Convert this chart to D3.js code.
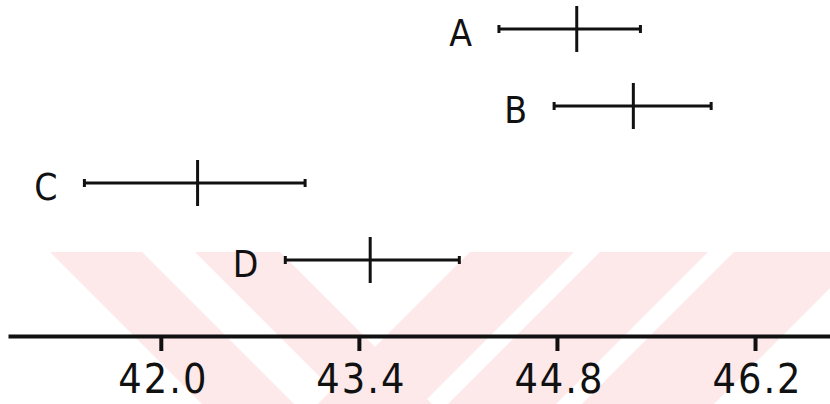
<!DOCTYPE html>
<html>
<head>
<meta charset="utf-8">
<script src="https://cdn.jsdelivr.net/npm/d3@7"></script>
<style>
  html, body { margin: 0; padding: 0; background: #fff; }
  svg { display: block; }
  text { font-family: "DejaVu Sans Condensed", "DejaVu Sans", sans-serif; fill: #111; }
</style>
</head>
<body>
<svg id="chart"></svg>
<script>
// Chart data
const categories = ["A", "B", "C", "D"];
const means = [44.94, 45.34, 42.26, 43.48];
const lows = [44.39, 44.78, 41.46, 42.88];
const highs = [45.39, 45.89, 43.02, 44.11];
const tickValues = [42.0, 43.4, 44.8, 46.2];

const width = 830;
const height = 404;
const axisY = 336;

const svg = d3.select("#chart")
	.attr("width", width)
	.attr("height", height);

// Scales
const x = d3.scaleLinear()
	.domain([40.92, 46.73])
	.range([8, 830]);

const y = d3.scalePoint()
	.domain(categories)
	.range([29, 260]);

// Faint pink watermark behind the chart (decoration only)
const band = {top: 252, bottom: 404};
const bandH = band.bottom - band.top;
// [left x at top, right x at top, horizontal drift per pixel down]
const stripes = [
	[50, 142, 1],
	[195, 280, 1],
	[470, 574, -1],
	[600, 708, -1],
	[734, 866, -1]
];
svg.append("clipPath")
	.attr("id", "band")
	.append("rect")
	.attr("x", 0)
	.attr("y", band.top)
	.attr("width", width)
	.attr("height", bandH);

svg.append("g")
	.attr("clip-path", "url(#band)")
	.selectAll("polygon")
	.data(stripes)
	.enter()
	.append("polygon")
	.attr("fill", "#fde8ea")
	.attr("points", d => {
		const dx = d[2] * bandH;
		return [[d[0], band.top], [d[1], band.top], [d[1] + dx, band.bottom], [d[0] + dx, band.bottom]]
			.map(p => p.join(",")).join(" ");
	});

// Axis
const axis = d3.axisBottom(x)
	.tickValues(tickValues)
	.tickFormat(d3.format(".1f"))
	.tickSize(15)
	.tickSizeOuter(0)
	.tickPadding(13);

const gAxis = svg.append("g")
	.attr("transform", `translate(0, ${axisY})`)
	.call(axis);

gAxis.select(".domain")
	.attr("stroke", "#111")
	.attr("stroke-width", 4);

gAxis.selectAll(".tick line")
	.attr("stroke", "#111")
	.attr("stroke-width", 4);

gAxis.selectAll(".tick text")
	.attr("fill", "#111")
	.attr("dx", 2)
	.style("font-family", "'DejaVu Sans Condensed', 'DejaVu Sans', sans-serif")
	.style("font-size", "41px")
	.style("letter-spacing", "2px");

// Error bars
const rows = categories.map((c, i) => ({cat: c, mean: means[i], low: lows[i], high: highs[i]}));

const bars = svg.selectAll(".bar")
	.data(rows)
	.enter()
	.append("g")
	.attr("class", "bar");

bars.append("line")
	.attr("x1", d => x(d.low))
	.attr("x2", d => x(d.high))
	.attr("y1", d => y(d.cat))
	.attr("y2", d => y(d.cat))
	.attr("stroke", "#111")
	.attr("stroke-width", 3);

// small end caps
bars.selectAll(".cap")
	.data(d => [d.low, d.high].map(v => ({v: v, cat: d.cat})))
	.enter()
	.append("line")
	.attr("class", "cap")
	.attr("x1", d => x(d.v))
	.attr("x2", d => x(d.v))
	.attr("y1", d => y(d.cat) - 4)
	.attr("y2", d => y(d.cat) + 4)
	.attr("stroke", "#111")
	.attr("stroke-width", 3);

// mean marker
bars.append("line")
	.attr("x1", d => x(d.mean))
	.attr("x2", d => x(d.mean))
	.attr("y1", d => y(d.cat) - 23)
	.attr("y2", d => y(d.cat) + 23)
	.attr("stroke", "#111")
	.attr("stroke-width", 3);

// category labels
bars.append("text")
	.attr("x", d => x(d.low) - 27)
	.attr("y", d => y(d.cat) + 17)
	.attr("text-anchor", "end")
	.style("font-size", "37px")
	.text(d => d.cat);
</script>
</body>
</html>
